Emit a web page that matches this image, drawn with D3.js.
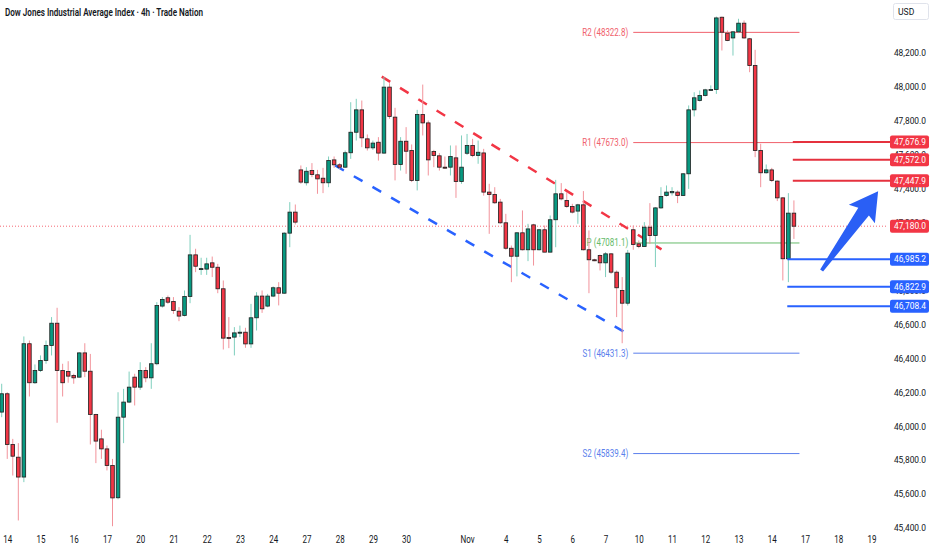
<!DOCTYPE html>
<html>
<head>
<meta charset="utf-8">
<script src="https://cdn.jsdelivr.net/npm/d3@7/dist/d3.min.js"></script>
<style>
body { margin: 0; background: #fff; }
text { font-family: Roboto, "Noto Sans", sans-serif; }
</style>
</head>
<body>
<script>
// 4h candles, index 0 .. 143
var opens = [46084,46192,45893,45818,45701,46487,46257,46329,46388,46477,46608,46329,46323,46300,46290,46433,46325,46070,45926,45867,
  45769,45579,46054,46143,46290,46231,46329,46286,46369,46709,46758,46736,46679,46654,46766,47011,46927,46927,46964,46938,
  46811,46524,46526,46555,46555,46486,46640,46768,46709,46768,46817,46785,47139,47263,47512,47436,47508,47483,47463,47436,
  47571,47542,47528,47613,47734,47866,47695,47642,47675,47611,48000,47823,47544,47681,47626,47450,47839,47789,47620,47595,
  47528,47528,47583,47443,47610,47656,47597,47612,47381,47367,47322,47200,47050,47003,47141,47041,47188,47041,47159,47027,
  47218,47371,47332,47296,47269,47306,47041,46982,47007,46964,47017,46909,46801,46726,47159,47076,47060,47174,47125,47288,
  47361,47377,47381,47361,47489,47866,47921,47951,47984,47986,48412,48318,48290,48326,48377,48285,48127,47626,47495,47512,
  47446,47347,46988,47257];
var highs = [46251,46201,45926,45901,46530,46506,46365,46418,46506,46644,46699,46369,46384,46310,46437,46490,46427,46074,45980,45887,
  45808,46201,46221,46323,46310,46378,46349,46490,46732,46762,46771,46762,46703,46801,47129,47047,46994,46994,47001,46958,
  46860,46644,46585,46594,46581,46722,46791,46801,46781,46825,46850,47145,47322,47308,47538,47528,47552,47512,47524,47591,
  47591,47552,47626,47911,47931,47921,47721,47685,47705,48059,48023,47878,47705,47764,47662,47866,48015,47803,47630,47611,
  47591,47656,47656,47715,47724,47695,47685,47636,47430,47410,47341,47253,47066,47145,47273,47194,47194,47164,47184,47243,
  47453,47434,47381,47312,47312,47387,47155,46988,47013,47027,47021,46919,46880,47040,47184,47096,47204,47316,47292,47410,
  47420,47410,47391,47493,47892,47970,47980,47990,48010,48416,48416,48334,48330,48403,48393,48290,48220,47666,47544,47524,
  47450,47351,47375,47332];
var lows = [46054,45808,45710,45445,45671,46176,46250,46320,46369,46418,46021,46176,46257,46251,46288,46290,45893,45783,45808,45740,
  45411,45570,45901,46137,46123,46215,46260,46221,46360,46700,46722,46663,46620,46648,46726,46909,46893,46893,46880,46785,
  46453,46461,46418,46526,46463,46463,46565,46669,46702,46762,46713,46781,47056,47190,47430,47420,47469,47371,47375,47410,
  47524,47518,47524,47577,47685,47646,47626,47630,47567,47607,47813,47450,47508,47489,47440,47391,47715,47479,47528,47508,
  47518,47479,47347,47430,47600,47587,47548,47360,47135,47312,47194,47041,46850,46884,47037,46974,46948,47037,47027,47027,
  47056,47332,47288,47255,47194,47037,46785,46974,46919,46880,46899,46644,46490,46712,47041,47050,47060,47076,46939,47282,
  47355,47361,47316,47359,47400,47827,47915,47945,47980,47960,48216,48271,48186,48318,48285,48088,47587,47410,47490,47440,
  47328,46860,46850,47105];
var closes = [46192,45893,45824,45701,46487,46257,46329,46388,46477,46608,46329,46257,46296,46286,46433,46325,46070,45913,45867,45769,
  45578,46054,46143,46231,46231,46329,46286,46369,46712,46748,46732,46683,46650,46766,47011,46944,46930,46958,46938,46811,
  46520,46522,46551,46555,46486,46640,46768,46693,46768,46817,46785,47139,47263,47204,47440,47504,47485,47459,47436,47567,
  47542,47528,47613,47734,47866,47701,47642,47670,47611,48000,47827,47544,47681,47622,47450,47839,47789,47571,47597,47528,
  47526,47591,47443,47528,47656,47597,47616,47381,47367,47318,47200,47050,47003,47141,47041,47164,47041,47159,47027,47218,
  47371,47341,47296,47263,47306,47041,46982,46980,46964,47017,46909,46817,46726,47021,47072,47060,47174,47125,47288,47355,
  47381,47384,47361,47489,47866,47937,47951,47984,47986,48408,48324,48275,48326,48377,48290,48127,47626,47495,47512,47450,
  47347,46988,47257,47180];

var dayLabels = ["14","15","16","17","20","21","22","23","24","27","28","29","30","Nov","4","5","6","7","10","11","12","13","14","17","18","19"];
var dayIndex  = [1,7,13,19,25,31,37,43,49,55,61,67,73,84,91,97,103,109,115,121,127,133,139,145,151,157];
var priceTicks = [45400,45600,45800,46000,46200,46400,46600,46800,47000,47200,47400,47600,47800,48000,48200];

var pivotNames  = ["R2","R1","P","S1","S2"];
var pivotValues = [48322.8, 47673.0, 47081.1, 46431.3, 45839.4];
var pivotSpan   = [114, 144];

var resistLevels = [47676.9, 47572.0, 47447.9];
var supportLevels = [46985.2, 46822.9, 46708.4];
var lastPrice = 47180.0;

var channelTop    = [[68.6, 48062], [119.1, 47043]];
var channelBottom = [[60.2, 47538], [114.0, 46526]];
var arrowFrom = [148.0, 46919], arrowTo = [158.2, 47386];

var W = 932, H = 550, axisX = 888;
var RED = "#f23645", GREEN = "#089981", BLUE = "#2962ff";

var svg = d3.select("body").append("svg")
    .attr("width", W)
    .attr("height", H)
    .style("display", "block");

var x = d3.scaleLinear().domain([0, 157]).range([1.7, 1.7 + 157 * 5.54]);
var y = d3.scaleLinear().domain([45400, 48200]).range([528.1, 53.2]);

// squeeze text horizontally, the chart uses a narrow face
function condense(sel, k) {
  sel.each(function () {
    var w = this.getComputedTextLength();
    d3.select(this).attr("textLength", w * k).attr("lengthAdjust", "spacingAndGlyphs");
  });
}

// title
svg.append("text")
    .attr("x", 5).attr("y", 15.5)
    .attr("font-size", "10.5px")
    .attr("font-weight", 600)
    .attr("fill", "#131722")
    .attr("textLength", 198)
    .attr("lengthAdjust", "spacingAndGlyphs")
    .text("Dow Jones Industrial Average Index · 4h · Trade Nation");

// current price dotted line
svg.append("line")
    .attr("x1", 0).attr("x2", axisX)
    .attr("y1", y(lastPrice)).attr("y2", y(lastPrice))
    .attr("stroke", RED).attr("stroke-opacity", 0.75)
    .attr("stroke-width", 1).attr("stroke-dasharray", "1,2");

// pivot levels
function pivotColor(name) {
  if (name[0] == "R") return "#f0616c";
  if (name[0] == "S") return "#5b7fec";
  return "#66bb6a";
}
var piv = svg.append("g");
pivotNames.forEach(function (n, i) {
  piv.append("line")
      .attr("x1", x(pivotSpan[0])).attr("x2", x(pivotSpan[1]))
      .attr("y1", y(pivotValues[i])).attr("y2", y(pivotValues[i]))
      .attr("stroke", pivotColor(n)).attr("stroke-width", 1);
  piv.append("text")
      .attr("x", x(pivotSpan[0]) - 5)
      .attr("y", y(pivotValues[i]))
      .attr("dy", "0.35em")
      .attr("text-anchor", "end")
      .attr("font-size", "10px")
      .attr("fill", pivotColor(n))
      .text(n + " (" + pivotValues[i].toFixed(1) + ")");
});
condense(piv.selectAll("text"), 0.8);

// channel lines
function dashLine(pts, color) {
  svg.append("line")
      .attr("x1", x(pts[0][0])).attr("y1", y(pts[0][1]))
      .attr("x2", x(pts[1][0])).attr("y2", y(pts[1][1]))
      .attr("stroke", color).attr("stroke-width", 2.5)
      .attr("stroke-dasharray", "10,11.5");
}
dashLine(channelTop, RED);
dashLine(channelBottom, BLUE);

// candles
var idx = d3.range(opens.length);
var candles = svg.append("g");
candles.selectAll("line")
    .data(idx)
    .enter()
    .append("line")
    .attr("x1", function (i) { return x(i); })
    .attr("x2", function (i) { return x(i); })
    .attr("y1", function (i) { return y(highs[i]); })
    .attr("y2", function (i) { return y(lows[i]); })
    .attr("stroke", function (i) { return closes[i] >= opens[i] ? "#7fcfbd" : "#f2939b"; })
    .attr("stroke-width", 1);
candles.selectAll("rect")
    .data(idx)
    .enter()
    .append("rect")
    .attr("x", function (i) { return x(i) - 1.8; })
    .attr("width", 3.6)
    .attr("y", function (i) { return y(Math.max(opens[i], closes[i])); })
    .attr("height", function (i) { return Math.max(1, Math.abs(y(opens[i]) - y(closes[i]))); })
    .attr("fill", function (i) { return closes[i] >= opens[i] ? GREEN : RED; })
    .attr("stroke", "#1e1e1e")
    .attr("stroke-width", 0.8);

// key levels
resistLevels.forEach(function (v) {
  svg.append("line")
      .attr("x1", x(142.8)).attr("x2", axisX + 2)
      .attr("y1", y(v)).attr("y2", y(v))
      .attr("stroke", "#e5313e").attr("stroke-width", 2);
});
supportLevels.forEach(function (v) {
  svg.append("line")
      .attr("x1", x(141.8)).attr("x2", axisX + 2)
      .attr("y1", y(v)).attr("y2", y(v))
      .attr("stroke", BLUE).attr("stroke-width", 2);
});

// arrow
var p0 = [x(arrowFrom[0]), y(arrowFrom[1])], p1 = [x(arrowTo[0]), y(arrowTo[1])];
var dx = p1[0] - p0[0], dy = p1[1] - p0[1], len = Math.sqrt(dx * dx + dy * dy);
var ux = dx / len, uy = dy / len, nx = -uy, ny = ux;
function pt(along, side) { return [p0[0] + ux * along + nx * side, p0[1] + uy * along + ny * side]; }
var headLen = 28;
var arrowPts = [pt(0, 1.8), pt(len - headLen + 3, 6.5), pt(len - headLen, 16), p1,
                pt(len - headLen, -16), pt(len - headLen + 3, -6.5), pt(0, -1.8)];
svg.append("path")
    .attr("d", d3.line()(arrowPts) + "Z")
    .attr("fill", "#2a5ff5");

// y axis
var yAxis = svg.append("g")
    .attr("transform", "translate(926,0)")
    .call(d3.axisLeft(y).tickValues(priceTicks).tickFormat(d3.format(",.1f")).tickSize(0).tickPadding(0));
yAxis.select(".domain").remove();
yAxis.selectAll("text").attr("font-size", "8.4px").attr("fill", "#131722")
    .style("font-family", "Roboto, 'Noto Sans', sans-serif");

// x axis
var xAxis = svg.append("g")
    .attr("transform", "translate(0,533)")
    .call(d3.axisBottom(x).tickValues(dayIndex).tickFormat(function (d, i) { return dayLabels[i]; }).tickSize(0).tickPadding(3));
xAxis.select(".domain").remove();
xAxis.selectAll("text").attr("font-size", "10px").attr("fill", "#131722")
    .style("font-family", "Roboto, 'Noto Sans', sans-serif");
condense(xAxis.selectAll("text"), 0.8);

// price labels on the axis
var tags = svg.append("g");
function axisTag(v, color) {
  tags.append("rect")
      .attr("x", 890).attr("y", y(v) - 6.5)
      .attr("width", 39).attr("height", 13).attr("rx", 2)
      .attr("fill", color);
  tags.append("text")
      .attr("x", 910).attr("y", y(v))
      .attr("dy", "0.35em").attr("text-anchor", "middle")
      .attr("font-size", "8.4px").attr("fill", "#fff")
      .text(d3.format(",.1f")(v));
}
resistLevels.forEach(function (v) { axisTag(v, RED); });
axisTag(lastPrice, RED);
supportLevels.forEach(function (v) { axisTag(v, BLUE); });

// currency box
svg.append("rect")
    .attr("x", 893.5).attr("y", 3.5).attr("width", 35).attr("height", 16).attr("rx", 2)
    .attr("fill", "#fff").attr("stroke", "#e0e3eb");
svg.append("text")
    .attr("x", 898).attr("y", 12).attr("dy", "0.35em")
    .attr("font-size", "8.6px").attr("fill", "#131722")
    .text("USD");
</script>
</body>
</html>
